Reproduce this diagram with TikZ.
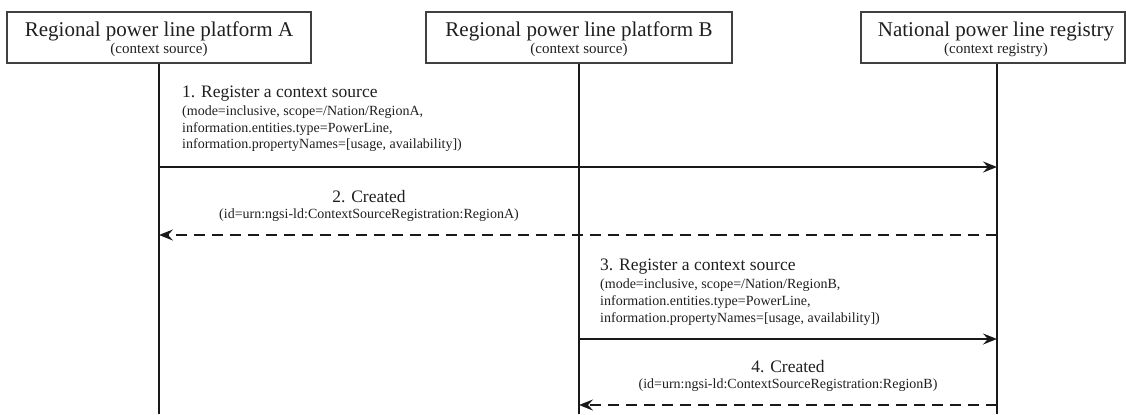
\documentclass[tikz,border=0pt]{standalone}
\usepackage{fontspec}
\setmainfont{Liberation Serif}
\usetikzlibrary{arrows.meta}
\begin{document}
\begin{tikzpicture}[x=1bp,y=-1bp,
  actor/.style={draw=black!75, line width=1.3bp, minimum height=51bp, inner sep=0pt},
  ttl/.style={font=\fontsize{21bp}{25bp}\selectfont, anchor=base, inner sep=0pt, text=black!88},
  subttl/.style={font=\fontsize{15bp}{18bp}\selectfont, anchor=base, inner sep=0pt, text=black!88},
  msg/.style={font=\fontsize{17.5bp}{20bp}\selectfont, inner sep=0pt, text=black!88},
  det/.style={font=\fontsize{14bp}{16bp}\selectfont, inner sep=0pt, anchor=base west, text=black!88},
  life/.style={line width=2bp, black!90},
  call/.style={line width=2bp, black!90, -{Stealth[length=14bp,width=11bp,inset=5bp]}},
  reply/.style={call, dash pattern=on 11bp off 7bp}]

\useasboundingbox (0,0) rectangle (1126,414);

% participants
\node[actor, minimum width=304bp] (boxA) at (159,37.5) {};
\node[actor, minimum width=306bp] (boxB) at (579,37.5) {};
\node[actor, minimum width=264bp] (boxC) at (993,37.5) {};

\node[ttl] (tA) at (159,36) {Regional power line platform A};
\node[subttl] (sA) at (159,53) {(context source)};
\node[ttl] (tB) at (579,36) {Regional power line platform B};
\node[subttl] (sB) at (579,53) {(context source)};
\node[ttl] (tC) at (996,36) {National power line registry};
\node[subttl] (sC) at (996,53) {(context registry)};

% lifelines
\coordinate (endA) at (159,414);
\coordinate (endB) at (579,414);
\coordinate (endC) at (997,414);
\draw[life] (boxA.south) -- (endA);
\draw[life] (boxB.south) -- (endB);
\draw[life] (boxC.south -| endC) -- (endC);

% 1. register A
\node[msg, anchor=base west] (m1) at (182,97) {1. Register a context source};
\node[det] (m1a) at (182,115) {(mode=inclusive, scope=/Nation/RegionA,};
\node[det] (m1b) at (182,132) {information.entities.type=PowerLine,};
\node[det] (m1c) at (182,148) {information.propertyNames=[usage, availability])};
\coordinate (a1) at (159,167);
\coordinate (c1) at (997,167);
\draw[call] (a1) -- (c1);

% 2. created A
\node[msg, anchor=base] (m2) at (369,202) {2. Created};
\node[det, anchor=base] (m2a) at (369,218) {(id=urn:ngsi-ld:ContextSourceRegistration:RegionA)};
\coordinate (c2) at (997,235);
\coordinate (a2) at (159,235);
\draw[reply] (c2) -- (a2);

% 3. register B
\node[msg, anchor=base west] (m3) at (600,270) {3. Register a context source};
\node[det] (m3a) at (600,288) {(mode=inclusive, scope=/Nation/RegionB,};
\node[det] (m3b) at (600,305) {information.entities.type=PowerLine,};
\node[det] (m3c) at (600,322) {information.propertyNames=[usage, availability])};
\coordinate (b3) at (579,339);
\coordinate (c3) at (997,339);
\draw[call] (b3) -- (c3);

% 4. created B
\node[msg, anchor=base] (m4) at (788,372) {4. Created};
\node[det, anchor=base] (m4a) at (788,388) {(id=urn:ngsi-ld:ContextSourceRegistration:RegionB)};
\coordinate (c4) at (997,405);
\coordinate (b4) at (579,405);
\draw[reply] (c4) -- (b4);

\end{tikzpicture}
\end{document}
